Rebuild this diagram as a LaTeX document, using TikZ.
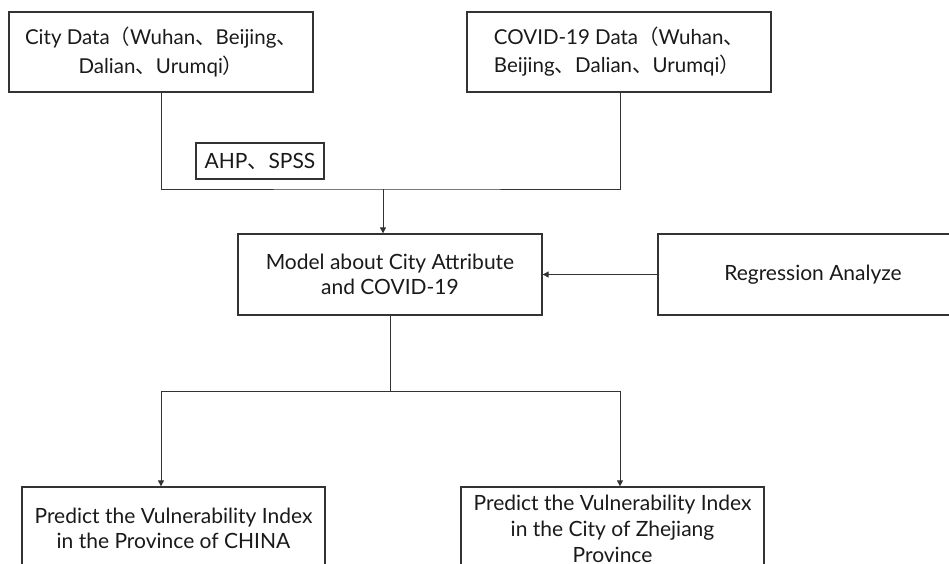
\documentclass[tikz,border=0pt]{standalone}
\usepackage{fontspec}
\setmainfont{Lato}
\newfontfamily\cjk{Noto Sans CJK SC}
\usetikzlibrary{arrows.meta}
\definecolor{ln}{HTML}{333333}
\definecolor{tx}{HTML}{1A1A1A}
\newcommand{\dun}{{\cjk 、}}
\newcommand{\lp}{{\cjk （}}
\newcommand{\rp}{{\cjk ）}}
\begin{document}
\begin{tikzpicture}[x=1pt,y=-1pt,
  boxnode/.style={draw=ln, line width=1.3pt, rectangle, inner sep=0pt, text=tx,
    font={\fontsize{21}{25}\selectfont}},
  conn/.style={draw=ln, line width=1pt},
  arr/.style={conn, -{Triangle[length=6pt,width=6pt]}}]
\useasboundingbox (0,0) rectangle (949,564);
\clip (0,0) rectangle (949,564);
\fill[white] (0,0) rectangle (949,564);
\node[boxnode, minimum width=304pt, minimum height=80pt, align=center,
  font={\fontsize{20.5}{29}\selectfont}] (city) at (161,52)
  {City Data\lp Wuhan\dun Beijing\dun\\Dalian\dun Urumqi\rp};
\node[boxnode, minimum width=304pt, minimum height=80pt, align=left,
  font={\fontsize{20.5}{28}\selectfont}] (covid) at (619,52)
  {COVID-19 Data\lp Wuhan\dun\\Beijing\dun Dalian\dun Urumqi\rp};
\node[boxnode, minimum width=128pt, minimum height=36pt] (ahp) at (260,161)
  {AHP\dun SPSS};
\node[boxnode, minimum width=304pt, minimum height=81pt, align=center] (model) at (390,274.5)
  {Model about City Attribute\\and COVID-19};
\node[boxnode, minimum width=310pt, minimum height=81pt] (regr) at (813,274.5)
  {Regression Analyze};
\node[boxnode, minimum width=303pt, minimum height=83pt, align=center] (pred1) at (173.5,528.5)
  {Predict the Vulnerability Index\\in the Province of CHINA};
\node[boxnode, minimum width=303pt, minimum height=83pt, align=center,
  font={\fontsize{21}{26}\selectfont}] (pred2) at (612.5,528.5)
  {Predict the Vulnerability Index\\in the City of Zhejiang\\Province};
\coordinate (j1) at (383,189);
\coordinate (j2) at (390,391);
\draw[conn] (city.south -| 161,0) |- (j1) -| (covid.south -| 620,0);
\draw[arr] (j1) -- (j1 |- model.north);
\draw[arr] (regr.west) -- (model.east);
\draw[conn] (model.south) -- (j2);
\draw[arr] (j2) -| (pred1.north -| 161,0);
\draw[arr] (j2) -| (pred2.north -| 620,0);
\end{tikzpicture}
\end{document}
